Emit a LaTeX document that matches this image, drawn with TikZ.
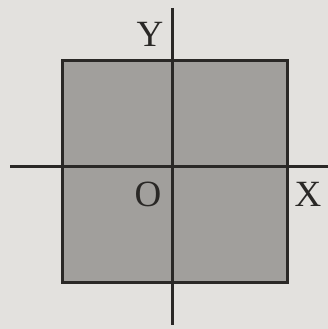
\documentclass[tikz,border=0pt]{standalone}
\usepackage{fontspec}
\setmainfont{Liberation Serif}
\definecolor{paper}{HTML}{E3E1DE}
\definecolor{shade}{HTML}{A19F9C}
\definecolor{ink}{HTML}{2A2826}
\begin{document}
\begin{tikzpicture}[x=1pt,y=-1pt,
  axis/.style={draw=ink,line width=3pt},
  frame/.style={draw=ink,line width=3pt,fill=shade},
  lbl/.style={text=ink,font=\fontsize{37}{37}\selectfont,inner sep=0pt}]
\fill[paper] (0,0) rectangle (328,329);
\useasboundingbox (0,0) rectangle (328,329);
\draw[frame] (62,61) rectangle (287,282);
\coordinate (ytop) at (172,8);
\coordinate (ybot) at (172,325);
\coordinate (xl) at (10,166);
\coordinate (xr) at (328,166);
\draw[axis] (ytop) -- (ybot);
\draw[axis] (xl) -- (xr);
\node[lbl] (Y) at (150,34) {Y};
\node[lbl] (O) at (148,194) {O};
\node[lbl] (X) at (308,194) {X};
\end{tikzpicture}
\end{document}
